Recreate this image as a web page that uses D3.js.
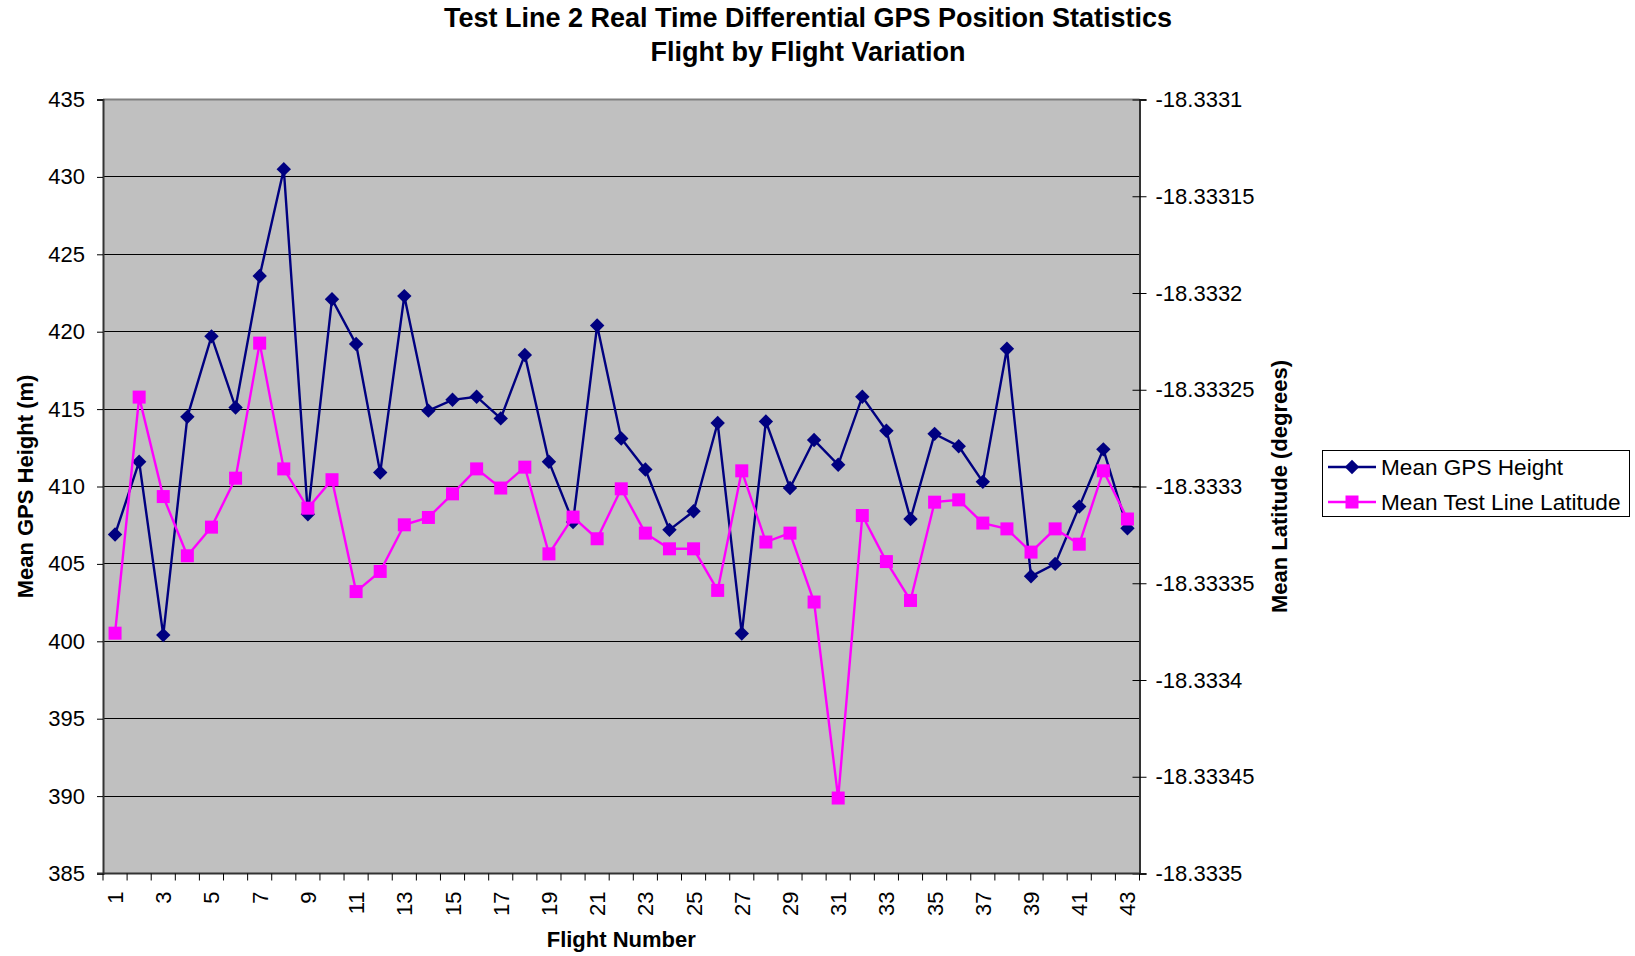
<!DOCTYPE html>
<html>
<head>
<meta charset="utf-8">
<script src="https://cdn.jsdelivr.net/npm/d3@7"></script>
<style>
  body { margin: 0; background: #fff; }
  svg { display: block; font-family: "Liberation Sans", Arial, sans-serif; }
</style>
</head>
<body>
<div class="chart"></div>
<script>
    var flights = [1, 2, 3, 4, 5, 6, 7, 8, 9, 10, 11, 12, 13, 14, 15, 16, 17, 18, 19, 20, 21, 22,
                   23, 24, 25, 26, 27, 28, 29, 30, 31, 32, 33, 34, 35, 36, 37, 38, 39, 40, 41, 42, 43];

    var gpsHeight = [406.9, 411.6, 400.4, 414.5, 419.7, 415.1, 423.6, 430.5, 408.2, 422.1,
                     419.2, 410.9, 422.3, 414.9, 415.6, 415.8, 414.4, 418.5, 411.6, 407.7,
                     420.4, 413.1, 411.1, 407.2, 408.4, 414.1, 400.5, 414.2, 409.9, 413.0,
                     411.4, 415.8, 413.6, 407.9, 413.4, 412.6, 410.3, 418.9, 404.2, 405.0,
                     408.7, 412.4, 407.3];

    var latitude = [-18.3333758, -18.3332538, -18.3333052, -18.3333358, -18.333321, -18.3332957,
                    -18.3332259, -18.3332909, -18.3333112, -18.3332965, -18.3333543, -18.3333439,
                    -18.3333198, -18.333316, -18.3333038, -18.3332909, -18.3333008, -18.33329,
                    -18.3333348, -18.3333158, -18.333327, -18.3333012, -18.3333241, -18.3333322,
                    -18.3333322, -18.3333537, -18.3332919, -18.3333287, -18.3333241, -18.3333597,
                    -18.333461, -18.333315, -18.3333388, -18.3333589, -18.3333081, -18.3333069,
                    -18.3333189, -18.3333219, -18.3333339, -18.3333219, -18.3333298, -18.3332919,
                    -18.3333168];

    var heightTicks = [385, 390, 395, 400, 405, 410, 415, 420, 425, 430, 435];
    var latTicks = [-18.3335, -18.33345, -18.3334, -18.33335, -18.3333, -18.33325, -18.3332, -18.33315, -18.3331];
    var xLabels = [1, 3, 5, 7, 9, 11, 13, 15, 17, 19, 21, 23, 25, 27, 29, 31, 33, 35, 37, 39, 41, 43];

    var seriesNames = ["Mean GPS Height", "Mean Test Line Latitude"];

    const width = 1635, height = 956;
    const plot = { left: 103, right: 1139.5, top: 99.5, bottom: 873.5 };
    const navy = "#000080", pink = "#FF00FF";

    var svg = d3.select(".chart").append("svg")
                .attr("width", width)
                .attr("height", height);

    var x = d3.scaleBand()
              .domain(flights)
              .range([plot.left, plot.right])
              .padding(0);

    var yL = d3.scaleLinear().domain([385, 435]).range([plot.bottom, plot.top]);
    var yR = d3.scaleLinear().domain([-18.3335, -18.3331]).range([plot.bottom, plot.top]);

    var cx = d => x(d) + x.bandwidth() / 2;

    // plot background
    svg.append("rect")
       .attr("x", plot.left).attr("y", plot.top)
       .attr("width", plot.right - plot.left)
       .attr("height", plot.bottom - plot.top)
       .attr("fill", "#C0C0C0");

    // gridlines
    svg.append("g")
       .selectAll("line")
       .data(heightTicks.slice(1, -1))
       .enter().append("line")
       .attr("x1", plot.left).attr("x2", plot.right)
       .attr("y1", d => yL(d)).attr("y2", d => yL(d))
       .attr("stroke", "#000").attr("stroke-width", 1)
       .attr("shape-rendering", "crispEdges");

    // plot border top
    svg.append("line")
       .attr("x1", plot.left).attr("x2", plot.right)
       .attr("y1", plot.top).attr("y2", plot.top)
       .attr("stroke", "#808080").attr("stroke-width", 2);

    // left axis
    var leftAxis = svg.append("g")
       .attr("transform", "translate(" + plot.left + ",0)")
       .call(d3.axisLeft(yL).tickValues(heightTicks).tickSize(6).tickPadding(12).tickFormat(d3.format("d")));
    leftAxis.select(".domain").attr("stroke", "#333").attr("stroke-width", 2);
    leftAxis.selectAll(".tick line").attr("stroke", "#000");
    leftAxis.selectAll("text").attr("font-size", 22).attr("font-family", null).attr("fill", "#000");

    // right axis, ticks cross the axis line
    var rightAxis = svg.append("g")
       .attr("transform", "translate(" + plot.right + ",0)")
       .call(d3.axisRight(yR).tickValues(latTicks).tickSize(7).tickPadding(9)
               .tickFormat(d => d.toFixed(5).replace(/0+$/, "")));
    rightAxis.select(".domain").attr("stroke", "#333").attr("stroke-width", 2);
    rightAxis.selectAll(".tick line").attr("x1", -7).attr("stroke", "#000");
    rightAxis.selectAll("text").attr("font-size", 22).attr("font-family", null).attr("fill", "#000");

    // bottom axis: category ticks between flights
    var edges = flights.map(d => x(d)).concat([plot.right]);
    var bottom = svg.append("g");
    bottom.append("line")
          .attr("x1", plot.left - 6).attr("x2", plot.right)
          .attr("y1", plot.bottom).attr("y2", plot.bottom)
          .attr("stroke", "#333").attr("stroke-width", 2);
    bottom.selectAll(".xtick")
          .data(edges)
          .enter().append("line")
          .attr("class", "xtick")
          .attr("x1", d => d).attr("x2", d => d)
          .attr("y1", plot.bottom).attr("y2", plot.bottom + 7)
          .attr("stroke", "#000");
    bottom.selectAll(".xlabel")
          .data(xLabels)
          .enter().append("text")
          .attr("class", "xlabel")
          .attr("transform", d => "translate(" + (cx(d) + 8) + "," + (plot.bottom + 18) + ") rotate(-90)")
          .attr("text-anchor", "end")
          .attr("font-size", 22)
          .text(d => d);

    // series lines
    var lineL = d3.line().x((d, i) => cx(flights[i])).y(d => yL(d));
    var lineR = d3.line().x((d, i) => cx(flights[i])).y(d => yR(d));

    svg.append("path").datum(gpsHeight)
       .attr("d", lineL).attr("fill", "none")
       .attr("stroke", navy).attr("stroke-width", 2.4);

    svg.append("g").selectAll("path")
       .data(gpsHeight)
       .enter().append("path")
       .attr("d", d3.symbol(d3.symbolSquare, 104))
       .attr("transform", (d, i) => "translate(" + cx(flights[i]) + "," + yL(d) + ") rotate(45)")
       .attr("fill", navy);

    svg.append("path").datum(latitude)
       .attr("d", lineR).attr("fill", "none")
       .attr("stroke", pink).attr("stroke-width", 2.4);

    svg.append("g").selectAll("rect")
       .data(latitude)
       .enter().append("rect")
       .attr("x", (d, i) => cx(flights[i]) - 6.5)
       .attr("y", d => yR(d) - 6.5)
       .attr("width", 13).attr("height", 13)
       .attr("fill", pink);

    // titles
    var title = svg.append("text")
       .attr("text-anchor", "middle")
       .attr("font-size", 27).attr("font-weight", "bold");
    title.append("tspan").attr("x", 808).attr("y", 27)
         .text("Test Line 2 Real Time Differential GPS Position Statistics");
    title.append("tspan").attr("x", 808).attr("y", 61)
         .text("Flight by Flight Variation");

    svg.append("text")
       .attr("x", (plot.left + plot.right) / 2).attr("y", 947)
       .attr("text-anchor", "middle")
       .attr("font-size", 22).attr("font-weight", "bold")
       .text("Flight Number");

    svg.append("text")
       .attr("transform", "translate(33," + (plot.top + plot.bottom) / 2 + ") rotate(-90)")
       .attr("text-anchor", "middle")
       .attr("font-size", 22).attr("font-weight", "bold")
       .text("Mean GPS Height (m)");

    svg.append("text")
       .attr("transform", "translate(1287," + (plot.top + plot.bottom) / 2 + ") rotate(-90)")
       .attr("text-anchor", "middle")
       .attr("font-size", 22).attr("font-weight", "bold")
       .text("Mean Latitude (degrees)");

    // legend
    var legend = svg.append("g");
    legend.append("rect")
          .attr("x", 1322.5).attr("y", 450.5)
          .attr("width", 307).attr("height", 66)
          .attr("fill", "#fff").attr("stroke", "#000").attr("stroke-width", 1);

    var rows = legend.selectAll(".row")
          .data(seriesNames)
          .enter().append("g")
          .attr("class", "row")
          .attr("transform", (d, i) => "translate(0," + (467 + i * 35) + ")");

    rows.append("line")
        .attr("x1", 1328).attr("x2", 1376)
        .attr("stroke", (d, i) => i === 0 ? navy : pink)
        .attr("stroke-width", 2.4);
    rows.filter((d, i) => i === 0).append("path")
        .attr("d", d3.symbol(d3.symbolSquare, 104))
        .attr("transform", "translate(1352,0) rotate(45)")
        .attr("fill", navy);
    rows.filter((d, i) => i === 1).append("rect")
        .attr("x", 1345.5).attr("y", -6.5)
        .attr("width", 13).attr("height", 13)
        .attr("fill", pink);
    rows.append("text")
        .attr("x", 1381).attr("dy", "0.35em")
        .attr("font-size", 22.6)
        .text(d => d);
</script>
</body>
</html>
